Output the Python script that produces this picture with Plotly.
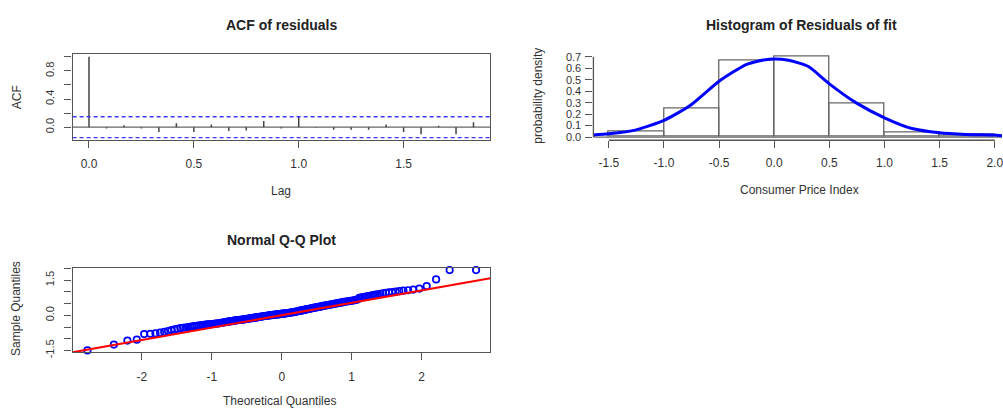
import plotly.graph_objects as go
from statistics import NormalDist

# ---------------- data ----------------
acf_lags = [0.0, 0.0833, 0.1667, 0.25, 0.3333, 0.4167, 0.5, 0.5833, 0.6667, 0.75, 0.8333, 0.9167,
            1.0, 1.0833, 1.1667, 1.25, 1.3333, 1.4167, 1.5, 1.5833, 1.6667, 1.75, 1.8333]
acf_vals = [1.0, -0.02, 0.028, -0.02, -0.07, 0.056, -0.07, 0.037, -0.056, -0.047, 0.088, -0.02,
            0.16, -0.01, -0.037, -0.037, -0.037, 0.037, -0.07, -0.10, 0.02, -0.10, 0.068]
acf_ci = 0.148

hist_edges = [-1.5, -1.0, -0.5, 0.0, 0.5, 1.0, 1.5, 2.0]
hist_density = [0.05, 0.245, 0.666, 0.70, 0.29, 0.037, 0.02]

dens_x = [-1.645, -1.5, -1.26, -1.0, -0.77, -0.5, -0.26, -0.14, -0.02, 0.13, 0.31, 0.5, 0.74, 1.0, 1.25, 1.5, 1.74, 1.99, 2.066]
dens_y = [0.017, 0.028, 0.06, 0.145, 0.27, 0.487, 0.63, 0.664, 0.681, 0.670, 0.615, 0.464, 0.30, 0.168, 0.074, 0.037, 0.023, 0.017, 0.012]

qq_sample = [
    -1.50, -1.25, -1.08, -1.04, -0.80, -0.79, -0.77, -0.74, -0.71, -0.67,
    -0.63, -0.60, -0.58, -0.55, -0.53, -0.52, -0.50, -0.49, -0.47, -0.46,
    -0.45, -0.44, -0.43, -0.42, -0.41, -0.40, -0.39, -0.39, -0.38, -0.37,
    -0.36, -0.35, -0.35, -0.34, -0.33, -0.32, -0.31, -0.30, -0.29, -0.28,
    -0.27, -0.26, -0.25, -0.25, -0.24, -0.23, -0.22, -0.21, -0.21, -0.20,
    -0.19, -0.19, -0.18, -0.17, -0.17, -0.16, -0.15, -0.15, -0.14, -0.13,
    -0.12, -0.12, -0.11, -0.10, -0.10, -0.09, -0.08, -0.08, -0.07, -0.06,
    -0.05, -0.05, -0.04, -0.03, -0.03, -0.02, -0.02, -0.01, 0.00, 0.00,
    0.01, 0.01, 0.02, 0.02, 0.03, 0.03, 0.04, 0.04, 0.05, 0.05, 0.06, 0.06,
    0.07, 0.07, 0.08, 0.08, 0.09, 0.10, 0.10, 0.11,
    0.12, 0.12, 0.13, 0.14, 0.14, 0.15, 0.16, 0.17, 0.18, 0.19,
    0.20, 0.21, 0.21, 0.22, 0.23, 0.24, 0.25, 0.26, 0.27, 0.28,
    0.29, 0.30, 0.31, 0.32, 0.33, 0.33, 0.34, 0.35, 0.36, 0.37,
    0.38, 0.39, 0.40, 0.41, 0.42, 0.43, 0.44, 0.45,
    0.46, 0.47, 0.48, 0.49, 0.50, 0.51, 0.52,
    0.53, 0.54, 0.55, 0.57, 0.58,
    0.59, 0.60, 0.61, 0.62, 0.63,
    0.64, 0.66, 0.67, 0.75, 0.76,
    0.78, 0.79, 0.81, 0.82, 0.84,
    0.86, 0.88, 0.90, 0.92, 0.94,
    0.96, 0.98, 0.99, 1.01, 1.03,
    1.05, 1.07, 1.10, 1.14, 1.25, 1.53, 1.93, 1.93]
qq_line_intercept = 0.005
qq_line_slope = 0.53

# ---------------- derived ----------------
n = len(qq_sample)
nd = NormalDist()
qq_theor = [nd.inv_cdf((i + 0.5) / n) for i in range(n)]

acf_x, acf_y = [], []
for l, v in zip(acf_lags, acf_vals):
    acf_x += [l, l, None]
    acf_y += [0, v, None]

hist_mid = [(a + b) / 2 for a, b in zip(hist_edges[:-1], hist_edges[1:])]
hist_w = [b - a for a, b in zip(hist_edges[:-1], hist_edges[1:])]

ACF_XR = [-0.078, 1.913]
QQ_XR = [-2.99, 2.98]
qq_ly = [qq_line_intercept + qq_line_slope * x for x in QQ_XR]

FONT = "Liberation Sans, Arial, Helvetica, sans-serif"
TXT = "#333333"
AX = "#555555"

W, H = 1003, 413
def px(x):
    return x / W
def py(y):
    return 1 - y / H

fig = go.Figure()

# ACF
fig.add_trace(go.Scatter(x=ACF_XR, y=[0, 0], mode="lines", line=dict(color="#666666", width=1.3),
                         xaxis="x", yaxis="y", hoverinfo="skip"))
fig.add_trace(go.Scatter(x=acf_x, y=acf_y, mode="lines", line=dict(color="#444444", width=1.5),
                         xaxis="x", yaxis="y"))
for c in (acf_ci, -acf_ci):
    fig.add_trace(go.Scatter(x=ACF_XR, y=[c, c], mode="lines",
                             line=dict(color="#3a3aff", width=1.3, dash="4px,3px"),
                             xaxis="x", yaxis="y", hoverinfo="skip"))

# Histogram
fig.add_trace(go.Bar(x=hist_mid, y=hist_density, width=hist_w,
                     marker=dict(color="rgba(0,0,0,0)", line=dict(color="#666666", width=1.3)),
                     xaxis="x2", yaxis="y2"))
fig.add_trace(go.Scatter(x=dens_x, y=dens_y, mode="lines",
                         line=dict(color="#0000ff", width=3, shape="spline", smoothing=0.6),
                         xaxis="x2", yaxis="y2", cliponaxis=False))

# QQ
fig.add_trace(go.Scatter(x=qq_theor, y=qq_sample, mode="markers",
                         marker=dict(symbol="circle-open", size=6.5, color="#0000ff",
                                     line=dict(width=1.7, color="#0000ff")),
                         xaxis="x3", yaxis="y3", cliponaxis=False))
fig.add_trace(go.Scatter(x=QQ_XR, y=qq_ly, mode="lines", line=dict(color="#ff0000", width=2),
                         xaxis="x3", yaxis="y3"))

tickfont = dict(family=FONT, size=12, color=TXT)
ytickfont = dict(family=FONT, size=11, color=TXT)
boxaxis = dict(showline=True, mirror=True, linecolor=AX, linewidth=1.3, ticks="outside", ticklen=7,
               tickcolor=AX, tickwidth=1.2, showgrid=False, zeroline=False, tickfont=tickfont, tickmode="array")

acf_dom_x = [px(72.7), px(490.7)]
top_dom_y = [py(140.3), py(51.7)]
fig.update_layout(
    width=W, height=H, autosize=False, showlegend=False,
    paper_bgcolor="white", plot_bgcolor="white",
    margin=dict(l=0, r=0, t=0, b=0),
    xaxis=dict(boxaxis, domain=acf_dom_x, range=ACF_XR, tickvals=[0, 0.5, 1, 1.5],
               ticktext=["0.0", "0.5", "1.0", "1.5"], anchor="y", ticklabelstandoff=5),
    yaxis=dict(boxaxis, domain=top_dom_y, range=[-0.186, 1.046], tickvals=[0, 0.2, 0.4, 0.6, 0.8, 1.0],
               ticktext=["0.0", "", "0.4", "", "0.8", ""], tickangle=-90, anchor="x", tickfont=ytickfont,
               ticklabelstandoff=6),
    xaxis2=dict(domain=[px(594), 1.0], range=[-1.64, 2.066], showline=False, showgrid=False, zeroline=False,
                ticks="outside", ticklen=7, tickcolor=AX, tickwidth=1.2, tickfont=tickfont, tickmode="array",
                tickvals=[-1.5, -1.0, -0.5, 0, 0.5, 1.0, 1.5, 2.0],
                ticktext=["-1.5", "-1.0", "-0.5", "0.0", "0.5", "1.0", "1.5", "2.0"], anchor="y2",
                ticklabelstandoff=4, ticklabeloverflow="allow"),
    yaxis2=dict(domain=top_dom_y, range=[-0.028, 0.728], showline=False, showgrid=False, zeroline=False,
                ticks="outside", ticklen=7, tickcolor=AX, tickwidth=1.2,
                tickfont=dict(family=FONT, size=11, color=TXT), tickmode="array",
                tickvals=[0, 0.1, 0.2, 0.3, 0.4, 0.5, 0.6, 0.7],
                ticktext=["0.0", "0.1", "0.2", "0.3", "0.4", "0.5", "0.6", "0.7"], anchor="x2",
                ticklabelstandoff=2),
    xaxis3=dict(boxaxis, domain=acf_dom_x, range=QQ_XR, tickvals=[-2, -1, 0, 1, 2],
                ticktext=["-2", "-1", "0", "1", "2"], anchor="y3", ticklabelstandoff=6),
    yaxis3=dict(boxaxis, domain=[py(357), py(271.3)], range=[-1.575, 2.003],
                tickvals=[-1.5, -1.0, -0.5, 0, 0.5, 1.0, 1.5, 2.0],
                ticktext=["-1.5", "", "", "0.0", "", "", "1.5", ""], tickangle=-90, anchor="x3",
                tickfont=ytickfont, ticklabelstandoff=6),
    bargap=0,
)

# histogram axis lines (from first to last tick) and zero baseline
fig.add_shape(type="line", xref="x2 domain", yref="y2", x0=0, x1=0, y0=0, y1=0.7, line=dict(color=AX, width=1.3))
fig.add_shape(type="line", xref="x2", yref="y2 domain", x0=-1.5, x1=2.0, y0=0, y1=0, line=dict(color=AX, width=1.3))
fig.add_shape(type="line", xref="x2 domain", yref="y2", x0=0, x1=1, y0=0, y1=0,
              line=dict(color="#666666", width=1.3), layer="below")

def ann(text, x, y, size=12, bold=False, angle=0):
    fig.add_annotation(text=("<b>%s</b>" % text) if bold else text, x=px(x), y=py(y), xref="paper", yref="paper",
                       showarrow=False, textangle=angle, xanchor="center", yanchor="middle",
                       font=dict(family=FONT, size=size, color="#222222" if bold else TXT))

ann("ACF of residuals", 281.7, 22.7, size=14, bold=True)
ann("Histogram of Residuals of fit", 802, 23, size=14, bold=True)
ann("Normal Q-Q Plot", 281.7, 242.7, size=14, bold=True)
ann("Lag", 281.7, 191.7)
ann("ACF", 16.7, 96.7, angle=-90)
ann("Consumer Price Index", 800, 190.7)
ann("probability density", 538.3, 95, angle=-90)
ann("Theoretical Quantiles", 280, 406.5)
ann("Sample Quantiles", 16.7, 312, angle=-90)

fig.write_html("out.html", config={"displayModeBar": False},
               post_script="document.body.style.margin='0';document.body.style.overflow='hidden';")
